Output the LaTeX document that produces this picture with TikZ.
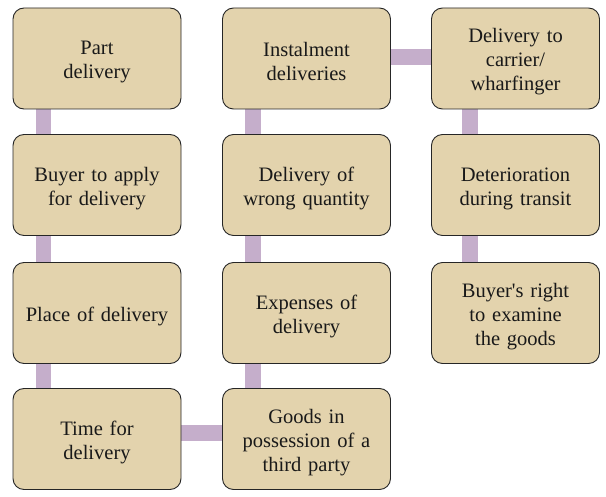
\documentclass[tikz,border=0pt]{standalone}
\usepackage{fontspec}
\setmainfont{Liberation Serif}[Ligatures=TeXOff]
\usepackage{xcolor}
\usetikzlibrary{backgrounds}
\definecolor{boxfill}{HTML}{E3D3AD}
\definecolor{barcol}{HTML}{C5AECB}

\begin{document}
\begin{tikzpicture}[x=1pt, y=1pt,
  topic/.style={draw=black!85, line width=0.9pt, fill=boxfill, rounded corners=11pt,
    minimum width=168pt, minimum height=101pt, text width=160pt, align=center,
    inner sep=0pt, font=\fontsize{20.5}{24}\selectfont, text=black!90,
    execute at begin node={\rule{0pt}{20.5pt}}},
  link/.style={barcol, line width=15.5pt}]
\useasboundingbox (0,0) rectangle (606,-497);
\node[topic] (part) at (97,-58.5) {Part\\delivery};
\node[topic] (apply) at (97,-185) {Buyer to apply\\for delivery};
\node[topic] (place) at (97,-313) {Place of delivery};
\node[topic] (time) at (97,-439) {Time for\\delivery};
\node[topic] (instal) at (306.5,-58.5) {Instalment\\deliveries};
\node[topic] (wrong) at (306.5,-185) {Delivery of\\wrong quantity};
\node[topic] (expense) at (306.5,-313) {Expenses of\\delivery};
\node[topic] (third) at (306.5,-439) {Goods in\\possession of a\\third party};
\node[topic] (carrier) at (515.5,-58.5) {Delivery to\\carrier/\\wharfinger};
\node[topic] (transit) at (515.5,-185) {Deterioration\\during transit};
\node[topic] (examine) at (515.5,-313) {Buyer's right\\to examine\\the goods};
\begin{scope}[on background layer]
\draw[link] ([xshift=31pt]part.south west) -- ([xshift=31pt]apply.north west);
\draw[link] ([xshift=31pt]apply.south west) -- ([xshift=31pt]place.north west);
\draw[link] ([xshift=31pt]place.south west) -- ([xshift=31pt]time.north west);
\draw[link] ([yshift=6pt]time.east) -- ([yshift=6pt]third.west);
\draw[link] ([xshift=31pt]third.north west) -- ([xshift=31pt]expense.south west);
\draw[link] ([xshift=31pt]expense.north west) -- ([xshift=31pt]wrong.south west);
\draw[link] ([xshift=31pt]wrong.north west) -- ([xshift=31pt]instal.south west);
\draw[link] ([yshift=1.5pt]instal.east) -- ([yshift=1.5pt]carrier.west);
\draw[link] ([xshift=39pt]carrier.south west) -- ([xshift=39pt]transit.north west);
\draw[link] ([xshift=39pt]transit.south west) -- ([xshift=39pt]examine.north west);
\end{scope}
\end{tikzpicture}
\end{document}
